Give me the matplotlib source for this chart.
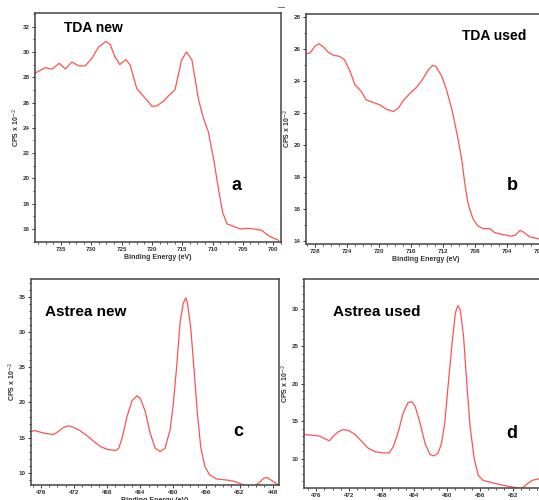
import matplotlib.pyplot as plt
from matplotlib.ticker import MultipleLocator, AutoMinorLocator

plt.rcParams['font.family'] = ['Liberation Sans', 'DejaVu Sans']

# Dados (energia de ligação em eV, CPS x 10^-2)
tda_new_x = [739.3, 737.6, 736.5, 735.3, 734.3, 733.2, 732.1, 731.0, 729.9, 728.8,
             727.6, 726.9, 726.1, 725.3, 724.3, 723.6, 722.5, 721.4, 720.0, 719.2,
             718.1, 717.0, 716.2, 715.1, 714.3, 713.4, 712.3, 711.5, 710.7, 709.8,
             709.0, 708.3, 707.6, 706.5, 705.4, 704.3, 703.2, 701.9, 700.8, 699.1]
tda_new_y = [28.32, 28.76, 28.63, 29.1, 28.66, 29.2, 28.9, 28.9, 29.5, 30.4,
             30.82, 30.6, 29.6, 29.0, 29.4, 28.97, 27.1, 26.5, 25.7, 25.74,
             26.1, 26.66, 27.0, 29.37, 30.0, 29.37, 26.2, 24.76, 23.7, 21.47,
             19.1, 17.26, 16.4, 16.2, 16.0, 16.05, 16.0, 15.9, 15.47, 15.1]

tda_used_x = [729.1, 728.6, 728.0, 727.5, 727.0, 726.3, 725.7, 724.9, 724.3, 723.6,
              723.0, 722.2, 721.6, 720.7, 719.9, 719.1, 718.2, 717.6, 717.0, 716.2,
              715.3, 714.6, 713.9, 713.3, 712.9, 712.2, 711.6, 710.9, 710.2, 709.7,
              709.3, 708.9, 708.3, 707.7, 707.0, 706.2, 705.6, 704.6, 703.5, 703.0,
              702.4, 701.9, 701.2, 700.1]
tda_used_y = [25.69, 25.73, 26.15, 26.31, 26.15, 25.77, 25.6, 25.52, 25.31, 24.58,
              23.75, 23.33, 22.8, 22.64, 22.5, 22.22, 22.08, 22.28, 22.74, 23.18,
              23.6, 24.06, 24.64, 24.96, 24.9, 24.31, 23.47, 22.18, 20.51, 19.15,
              17.59, 16.33, 15.4, 14.94, 14.75, 14.77, 14.52, 14.39, 14.29, 14.35,
              14.66, 14.52, 14.25, 14.12]

astrea_new_x = [477.2, 476.7, 475.9, 475.1, 474.5, 473.9, 473.3, 472.7, 472.1, 471.3,
                470.4, 469.6, 468.8, 468.0, 467.0, 466.6, 466.2, 465.6, 465.0, 464.4,
                464.0, 463.4, 462.8, 462.2, 461.6, 461.0, 460.4, 460.0, 459.6, 459.2,
                458.8, 458.5, 458.3, 457.9, 457.5, 457.1, 456.7, 456.2, 455.6, 454.8,
                453.6, 452.8, 452.0, 451.3, 450.3, 449.7, 449.1, 448.7, 448.1, 447.3]
astrea_new_y = [15.86, 16.0, 15.71, 15.52, 15.43, 15.86, 16.43, 16.67, 16.48, 16.0,
                15.24, 14.43, 13.71, 13.33, 13.14, 13.48, 14.9, 18.0, 20.24, 20.95,
                20.62, 18.71, 15.62, 13.48, 13.0, 13.48, 16.1, 19.9, 25.14, 31.33,
                34.19, 34.9, 34.19, 30.6, 24.67, 18.48, 13.7, 10.86, 9.67, 9.1,
                8.95, 8.81, 8.48, 8.14, 8.1, 8.48, 9.19, 9.33, 8.86, 8.24]

astrea_used_x = [477.5, 476.6, 475.6, 475.0, 474.4, 474.0, 473.3, 472.7, 472.0, 471.3,
                 470.5, 469.7, 468.8, 467.8, 467.1, 466.6, 466.0, 465.4, 464.8, 464.3,
                 463.9, 463.3, 462.7, 462.1, 461.6, 461.1, 460.7, 460.3, 459.9, 459.4,
                 459.0, 458.7, 458.4, 458.0, 457.6, 457.2, 456.7, 456.2, 455.6, 454.7,
                 453.5, 452.5, 451.5, 450.9, 450.2, 449.6, 448.7]
astrea_used_y = [13.26, 13.17, 13.04, 12.72, 12.41, 12.95, 13.62, 13.93, 13.75, 13.3,
                 12.41, 11.47, 10.94, 10.8, 10.8, 11.6, 13.48, 16.07, 17.5, 17.63,
                 16.96, 14.73, 12.05, 10.58, 10.4, 10.8, 12.05, 14.73, 19.64, 25.45,
                 29.46, 30.45, 29.9, 26.34, 20.09, 14.29, 10.04, 7.81, 7.14, 6.88,
                 6.56, 6.34, 6.16, 6.03, 6.7, 7.14, 7.37]

W, H = 539, 500
fig = plt.figure(figsize=(W / 100, H / 100), dpi=100)


def painel(px, x, y, xlim, ylim, xmaj, xmin_n, ymaj, ymin_n):
    # px = (esquerda, topo, direita, base) em pixels
    l, t, r, b = px
    ax = fig.add_axes([l / W, 1 - b / H, (r - l) / W, (b - t) / H])
    ax.plot(x, y, color='#ff5252', lw=0.9)
    ax.set_xlim(*xlim)
    ax.set_ylim(*ylim)
    ax.xaxis.set_major_locator(MultipleLocator(xmaj))
    ax.xaxis.set_minor_locator(AutoMinorLocator(xmin_n))
    ax.yaxis.set_major_locator(MultipleLocator(ymaj))
    ax.yaxis.set_minor_locator(AutoMinorLocator(ymin_n))
    ax.tick_params(which='major', length=2.5, width=0.7, labelsize=4.5, pad=1.2, colors='#333333')
    ax.tick_params(which='minor', length=1.5, width=0.6, colors='#333333')
    for lab in ax.get_xticklabels() + ax.get_yticklabels():
        lab.set_fontweight('bold')
    for s in ax.spines.values():
        s.set_color('#444444')
        s.set_linewidth(1.1)
    ax.set_xlabel('Binding Energy (eV)', fontsize=5, fontweight='bold', labelpad=1, color='#333333')
    ax.set_ylabel('CPS x 10$^{-2}$', fontsize=5, fontweight='bold', labelpad=0.5, color='#333333')
    return ax


painel((35, 13, 281, 242), tda_new_x, tda_new_y, (739.3, 698.7), (14.97, 33.08), 5, 4, 2, 2)
painel((306, 14, 545, 244), tda_used_x, tda_used_y, (729.1, 699.3), (13.8, 28.17), 4, 4, 2, 2)
painel((31, 279, 279, 485), astrea_new_x, astrea_new_y, (477.2, 447.24), (8.24, 37.6), 4, 4, 5, 5)
painel((304, 279, 547, 488), astrea_used_x, astrea_used_y, (477.5, 447.8), (6.12, 34.0), 4, 4, 5, 5)

# Rótulos dos painéis
rotulos = [('TDA new', 93, 28, 10), ('a', 237, 186, 13),
           ('TDA used', 494, 36, 10), ('b', 512, 186, 13),
           ('Astrea new', 86, 312, 11), ('c', 238, 432, 13),
           ('Astrea used', 377, 312, 11), ('d', 512, 434, 13)]
for txt, x, y, fs in rotulos:
    fig.text(x / W, 1 - y / H, txt, fontsize=fs, fontweight='bold', ha='center', va='center')

fig.text(282 / W, 1 - 8 / H, '\u2014', fontsize=5, fontweight='bold', ha='center', va='center', color='#444444')

fig.savefig('out.png', dpi=100)
